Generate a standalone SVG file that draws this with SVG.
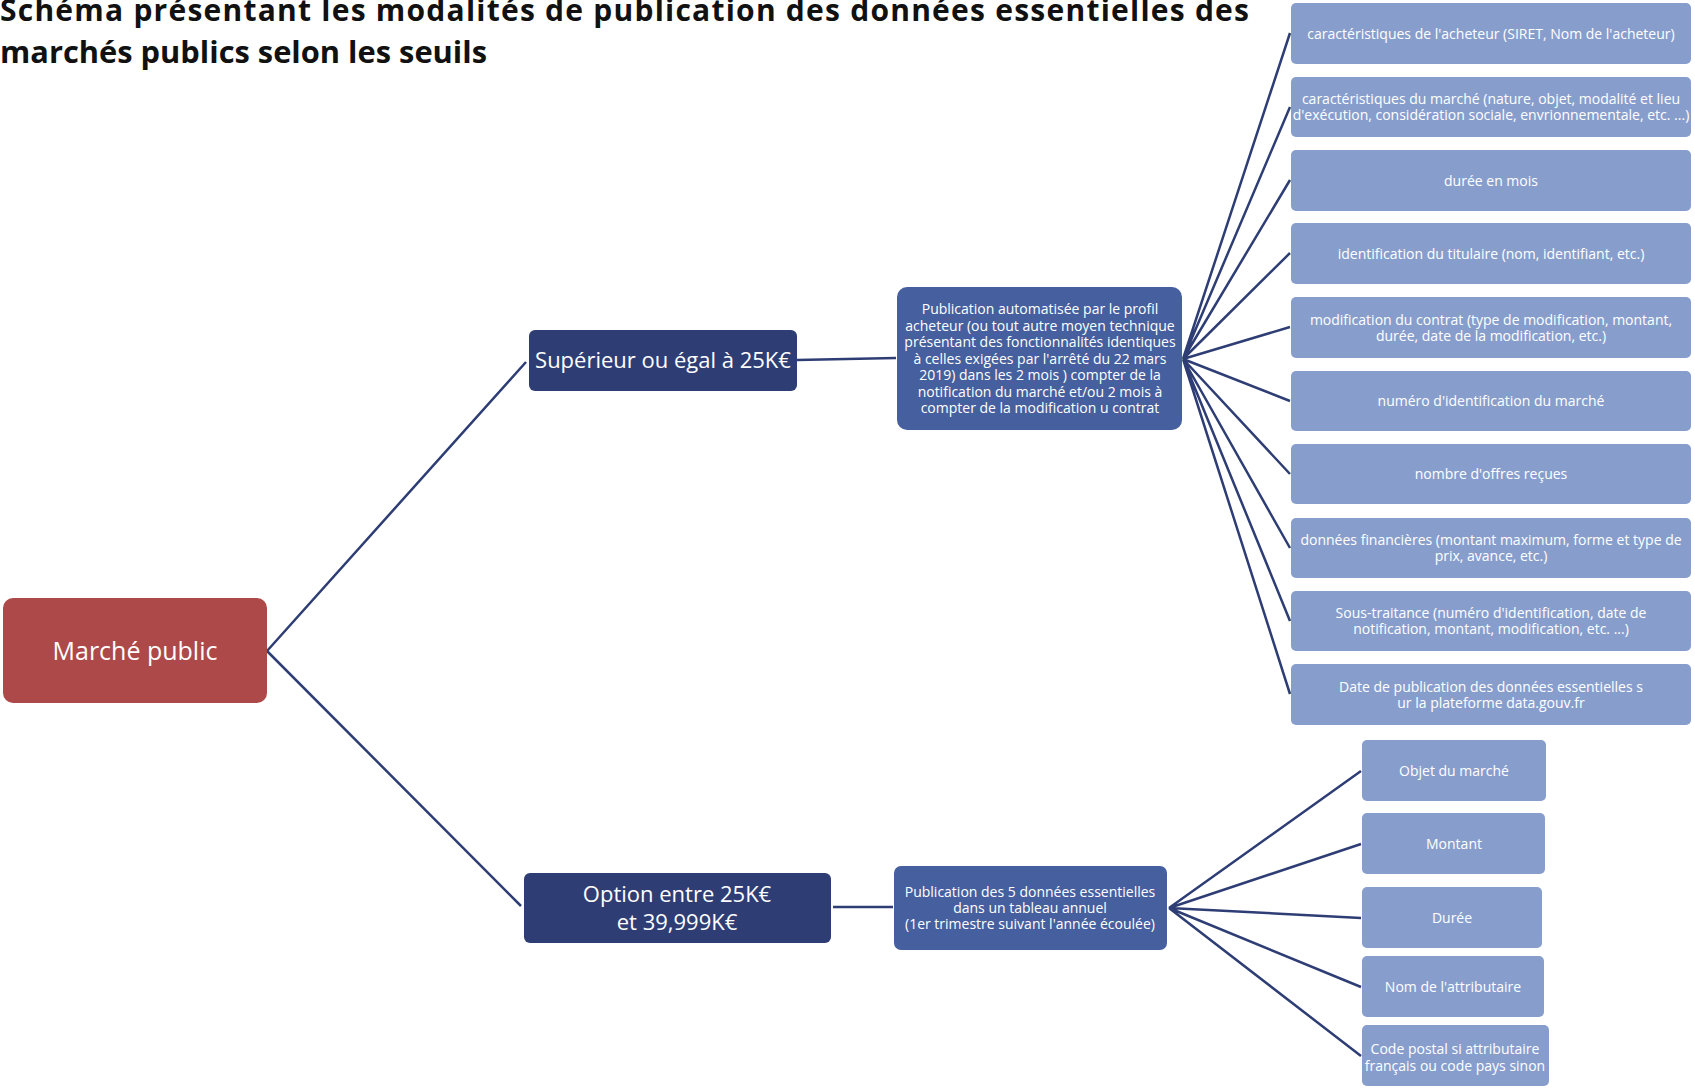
<svg xmlns="http://www.w3.org/2000/svg" width="1695" height="1089" viewBox="0 0 1695 1089">
<style>
.title{font-family:"Open Sans","Liberation Sans",sans-serif;font-weight:700;font-size:30px;fill:#111}
.t{font-family:"Open Sans","Liberation Sans",sans-serif;fill:#fff;text-anchor:middle}
.s{font-size:14px}
.m{font-size:22px}
.l{font-size:25px}
.leaf{fill:#879ecd}
.mid{fill:#465f9e}
.dark{fill:#2e3e75}
.red{fill:#ad4949}
.c{stroke:#2e3e75;stroke-width:2.5;fill:none}
</style>
<text class="title" x="0" y="21" textLength="1249" lengthAdjust="spacing">Schéma présentant les modalités de publication des données essentielles des</text>
<text class="title" x="0" y="63" textLength="487" lengthAdjust="spacingAndGlyphs">marchés publics selon les seuils</text>
<g id="connectors">
<path class="c" d="M267,651 L526,362 M267,651 L521,906 M797,360 L896,358 M833,907 L893,907"/>
<path class="c" d="M1183,359 L1290,33 M1183,359 L1290,107 M1183,359 L1290,180 M1183,359 L1290,253 M1183,359 L1290,327 M1183,359 L1290,401 M1183,359 L1290,474 M1183,359 L1290,548 M1183,359 L1290,621 M1183,359 L1290,694"/>
<path class="c" d="M1169,908 L1361,771 M1169,908 L1361,844 M1169,908 L1361,918 M1169,908 L1361,987 M1169,908 L1361,1056"/>
</g>
<g id="n-marche"><rect class="red" x="3" y="598" width="264" height="105" rx="10"/><text class="t l" x="135" y="660">Marché public</text></g>
<g id="n-sup"><rect class="dark" x="529" y="330" width="268" height="61" rx="6"/><text class="t m" x="663" y="368">Supérieur ou égal à 25K€</text></g>
<g id="n-opt"><rect class="dark" x="524" y="873" width="307" height="70" rx="6"/><text class="t m" x="677" y="902">Option entre 25K€</text><text class="t m" x="677" y="930">et 39,999K€</text></g>
<g id="n-pubauto"><rect class="mid" x="897" y="287" width="285" height="143" rx="10"/>
<text class="t s" x="1040" y="314">Publication automatisée par le profil</text>
<text class="t s" x="1040" y="330.5">acheteur (ou tout autre moyen technique</text>
<text class="t s" x="1040" y="347">présentant des fonctionnalités identiques</text>
<text class="t s" x="1040" y="363.5">à celles exigées par l'arrêté du 22 mars</text>
<text class="t s" x="1040" y="380">2019) dans les 2 mois ) compter de la</text>
<text class="t s" x="1040" y="396.5">notification du marché et/ou 2 mois à</text>
<text class="t s" x="1040" y="413">compter de la modification u contrat</text></g>
<g id="n-pub5"><rect class="mid" x="894" y="866" width="273" height="84" rx="7"/>
<text class="t s" x="1030" y="897">Publication des 5 données essentielles</text>
<text class="t s" x="1030" y="913">dans un tableau annuel</text>
<text class="t s" x="1030" y="929">(1er trimestre suivant l'année écoulée)</text></g>
<g id="r1"><rect class="leaf" x="1291" y="3" width="400" height="61" rx="5"/><text class="t s" x="1491" y="39">caractéristiques de l'acheteur (SIRET, Nom de l'acheteur)</text></g>
<g id="r2"><rect class="leaf" x="1291" y="77" width="400" height="60" rx="5"/><text class="t s" x="1491" y="104">caractéristiques du marché (nature, objet, modalité et lieu</text><text class="t s" x="1491" y="120">d'exécution, considération sociale, envrionnementale, etc. ...)</text></g>
<g id="r3"><rect class="leaf" x="1291" y="150" width="400" height="61" rx="5"/><text class="t s" x="1491" y="186">durée en mois</text></g>
<g id="r4"><rect class="leaf" x="1291" y="223" width="400" height="61" rx="5"/><text class="t s" x="1491" y="259">identification du titulaire (nom, identifiant, etc.)</text></g>
<g id="r5"><rect class="leaf" x="1291" y="297" width="400" height="61" rx="5"/><text class="t s" x="1491" y="325">modification du contrat (type de modification, montant,</text><text class="t s" x="1491" y="341">durée, date de la modification, etc.)</text></g>
<g id="r6"><rect class="leaf" x="1291" y="371" width="400" height="60" rx="5"/><text class="t s" x="1491" y="406">numéro d'identification du marché</text></g>
<g id="r7"><rect class="leaf" x="1291" y="444" width="400" height="60" rx="5"/><text class="t s" x="1491" y="479">nombre d'offres reçues</text></g>
<g id="r8"><rect class="leaf" x="1291" y="518" width="400" height="60" rx="5"/><text class="t s" x="1491" y="545">données financières (montant maximum, forme et type de</text><text class="t s" x="1491" y="561">prix, avance, etc.)</text></g>
<g id="r9"><rect class="leaf" x="1291" y="591" width="400" height="60" rx="5"/><text class="t s" x="1491" y="618">Sous-traitance (numéro d'identification, date de</text><text class="t s" x="1491" y="634">notification, montant, modification, etc. ...)</text></g>
<g id="r10"><rect class="leaf" x="1291" y="664" width="400" height="61" rx="5"/><text class="t s" x="1491" y="692">Date de publication des données essentielles s</text><text class="t s" x="1491" y="708">ur la plateforme data.gouv.fr</text></g>
<g id="b1"><rect class="leaf" x="1362" y="740" width="184" height="61" rx="5"/><text class="t s" x="1454" y="776">Objet du marché</text></g>
<g id="b2"><rect class="leaf" x="1362" y="813" width="183" height="61" rx="5"/><text class="t s" x="1454" y="849">Montant</text></g>
<g id="b3"><rect class="leaf" x="1362" y="887" width="180" height="61" rx="5"/><text class="t s" x="1452" y="923">Durée</text></g>
<g id="b4"><rect class="leaf" x="1362" y="956" width="182" height="61" rx="5"/><text class="t s" x="1453" y="992">Nom de l'attributaire</text></g>
<g id="b5"><rect class="leaf" x="1362" y="1025" width="187" height="61" rx="5"/><text class="t s" x="1455" y="1054">Code postal si attributaire</text><text class="t s" x="1455" y="1071">français ou code pays sinon</text></g>
</svg>
